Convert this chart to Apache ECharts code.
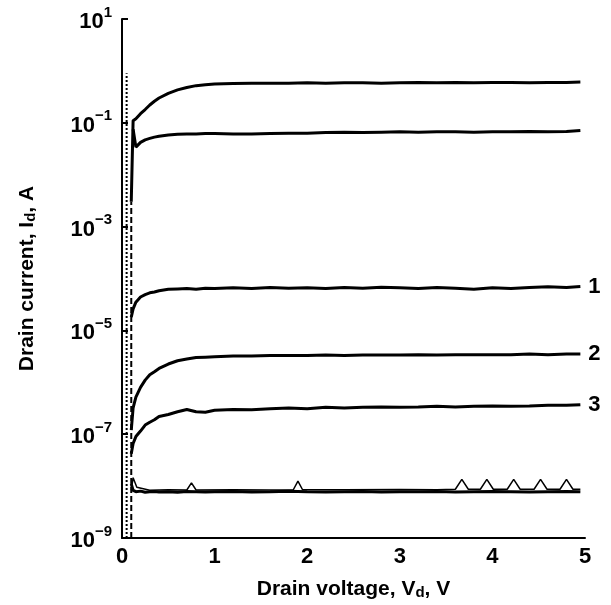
<!DOCTYPE html>
<html>
<head>
<meta charset="utf-8">
<script src="https://cdn.jsdelivr.net/npm/echarts/dist/echarts.min.js"></script>
<style>
  html, body { margin: 0; padding: 0; background: #fff; }
  #chart { width: 611px; height: 605px; }
</style>
</head>
<body>
<div id="chart"></div>
<script>
/* ── data ── */
const vd = [0.10, 0.12, 0.15, 0.2, 0.25, 0.3, 0.35, 0.4, 0.5, 0.6, 0.7, 0.8, 0.9, 1.0,
  1.2, 1.4, 1.6, 1.8, 2.0, 2.2, 2.4, 2.6, 2.8, 3.0, 3.2, 3.4, 3.6, 3.8, 4.0, 4.2, 4.4, 4.6, 4.8, 4.95];

const idTop = [0.003, 0.11, 0.12, 0.15, 0.18, 0.22, 0.26, 0.30, 0.37, 0.43, 0.48, 0.52, 0.54, 0.56,
  0.57, 0.58, 0.58, 0.58, 0.59, 0.58, 0.59, 0.59, 0.58, 0.59, 0.60, 0.59, 0.60, 0.59, 0.60, 0.60, 0.59, 0.60, 0.60, 0.61];
const idSecond = [null, 0.075, 0.034, 0.042, 0.047, 0.050, 0.053, 0.055, 0.058, 0.060, 0.061, 0.061, 0.062, 0.062,
  0.061, 0.061, 0.062, 0.063, 0.063, 0.065, 0.066, 0.065, 0.066, 0.067, 0.066, 0.067, 0.067, 0.066, 0.067, 0.067, 0.068, 0.067, 0.068, 0.071];
const id1 = [1.8e-5, 2.6e-5, 3.5e-5, 4.4e-5, 4.9e-5, 5.3e-5, 5.5e-5, 5.8e-5, 6.2e-5, 6.3e-5, 6.4e-5, 6.2e-5, 6.5e-5, 6.4e-5,
  6.6e-5, 6.4e-5, 6.7e-5, 6.5e-5, 6.6e-5, 6.4e-5, 6.7e-5, 6.5e-5, 6.8e-5, 6.6e-5, 6.4e-5, 6.7e-5, 6.5e-5, 6.2e-5, 6.6e-5, 6.4e-5, 6.7e-5, 6.9e-5, 6.7e-5, 7.0e-5];
const id2 = [1.2e-7, 3.2e-7, 5.2e-7, 8.0e-7, 1.1e-6, 1.4e-6, 1.6e-6, 1.85e-6, 2.25e-6, 2.6e-6, 2.8e-6, 3.0e-6, 3.05e-6, 3.1e-6,
  3.2e-6, 3.2e-6, 3.3e-6, 3.3e-6, 3.3e-6, 3.35e-6, 3.3e-6, 3.35e-6, 3.35e-6, 3.35e-6, 3.4e-6, 3.35e-6, 3.4e-6, 3.4e-6, 3.4e-6, 3.4e-6, 3.5e-6, 3.4e-6, 3.5e-6, 3.5e-6];
const id3 = [4.2e-8, 6.6e-8, 9.0e-8, 1.15e-7, 1.5e-7, 1.7e-7, 1.9e-7, 2.2e-7, 2.4e-7, 2.7e-7, 3.0e-7, 2.7e-7, 2.65e-7, 2.9e-7,
  3.0e-7, 2.95e-7, 3.1e-7, 3.2e-7, 3.1e-7, 3.3e-7, 3.2e-7, 3.3e-7, 3.35e-7, 3.3e-7, 3.35e-7, 3.45e-7, 3.35e-7, 3.45e-7, 3.5e-7, 3.45e-7, 3.5e-7, 3.6e-7, 3.6e-7, 3.7e-7];
const idFloor = [1.1e-8, 8.3e-9, 7.8e-9, 8.0e-9, 7.6e-9, 7.8e-9, 7.9e-9, 7.7e-9, 7.8e-9, 7.6e-9, 7.9e-9, 7.8e-9, 7.7e-9, 7.8e-9,
  7.9e-9, 7.7e-9, 7.8e-9, 8.0e-9, 7.8e-9, 7.7e-9, 7.8e-9, 7.9e-9, 7.7e-9, 7.8e-9, 7.8e-9, 7.9e-9, 7.7e-9, 7.8e-9, 7.9e-9, 7.8e-9, 7.7e-9, 7.8e-9, 7.9e-9, 7.8e-9];

// the noisy trace with little triangular bumps
const bumpVd = [0.10, 0.12, 0.16, 0.3, 0.5, 0.7, 0.75, 0.8, 1.2, 1.6, 1.85, 1.9, 1.95, 2.4, 3.0, 3.4, 3.6,
  3.67, 3.74, 3.87, 3.94, 4.01, 4.16, 4.23, 4.30, 4.45, 4.52, 4.59, 4.73, 4.80, 4.87, 4.95];
const idBump = [8.3e-9, 1.45e-8, 9.5e-9, 8.3e-9, 8.5e-9, 8.4e-9, 1.15e-8, 8.4e-9, 8.5e-9, 8.4e-9, 8.5e-9, 1.25e-8, 8.5e-9, 8.5e-9, 8.6e-9, 8.5e-9, 8.7e-9,
  1.35e-8, 8.7e-9, 8.7e-9, 1.35e-8, 8.7e-9, 8.7e-9, 1.35e-8, 8.7e-9, 8.7e-9, 1.35e-8, 8.7e-9, 8.7e-9, 1.35e-8, 8.7e-9, 8.7e-9];

// the initial sweeps hugging the y axis
const sweepDotted = [[0.05, 1e-9], [0.05, 0.9]];
const sweepDashed = [[0.10, 1e-9], [0.10, 3e-3]];

const yTicks = [1e-9, 1e-7, 1e-5, 1e-3, 1e-1, 10];

/* ── helpers ── */
const FONT = "'Liberation Sans', Arial, Helvetica, sans-serif";
const INK = "#000";
const pair = (xs, ys) => xs.map((x, i) => [x, ys[i]]).filter((p) => p[1] != null);
const sup = (v) => {
  const e = Math.round(Math.log10(v));
  const s = e < 0 ? "\u2212" + Math.abs(e) : String(e);
  return "{b|10}{s|" + s + "}";
};

const curve = (name, data, label) => ({
  name,
  type: "line",
  data,
  symbol: "none",
  lineStyle: { color: INK, width: 3 },
  endLabel: label
    ? { show: true, formatter: label, color: INK, fontSize: 22, fontWeight: "bold", fontFamily: FONT, distance: 8 }
    : { show: false },
  z: 3,
});

const chart = echarts.init(document.getElementById("chart"), null, { renderer: "canvas" });

chart.setOption({
  animation: false,
  backgroundColor: "#fff",
  grid: { left: 122, right: 26, top: 19, bottom: 61 },
  xAxis: {
    type: "value",
    min: 0,
    max: 5,
    interval: 1,
    name: "Drain voltage, V{sub|d}, V",
    nameLocation: "middle",
    nameGap: 40,
    nameTextStyle: {
      color: INK, fontSize: 21, fontWeight: "bold", fontFamily: FONT,
      rich: {
        sub: { fontSize: 15, fontWeight: "bold", fontFamily: FONT, color: INK, verticalAlign: "bottom", padding: [7, 0, 0, 0] },
      },
    },
    axisLine: { show: true, lineStyle: { color: INK, width: 2 } },
    axisTick: { show: false },
    axisLabel: { color: INK, fontSize: 22, fontWeight: "bold", fontFamily: FONT, margin: 8 },
    splitLine: { show: false },
  },
  yAxis: {
    type: "log",
    logBase: 10,
    min: 1e-9,
    max: 10,
    name: "Drain current, I{sub|d}, A",
    nameLocation: "middle",
    nameGap: 84,
    nameTextStyle: {
      color: INK, fontSize: 21, fontWeight: "bold", fontFamily: FONT,
      rich: {
        sub: { fontSize: 15, fontWeight: "bold", fontFamily: FONT, color: INK, verticalAlign: "bottom", padding: [7, 0, 0, 0] },
      },
    },
    axisLine: { show: true, lineStyle: { color: INK, width: 2 } },
    axisTick: { show: true, inside: true, length: 6, lineStyle: { color: INK, width: 2 }, customValues: yTicks },
    axisLabel: {
      customValues: yTicks,
      formatter: sup,
      margin: 10,
      rich: {
        b: { fontSize: 22, fontWeight: "bold", fontFamily: FONT, color: INK, padding: [6, 0, 0, 0] },
        s: { fontSize: 15, fontWeight: "bold", fontFamily: FONT, color: INK, verticalAlign: "top" },
      },
    },
    splitLine: { show: false },
  },
  series: [
    {
      name: "sweep-dotted",
      type: "line",
      data: sweepDotted,
      symbol: "none",
      lineStyle: { color: INK, width: 2, type: "dotted" },
      z: 2,
    },
    {
      name: "sweep-dashed",
      type: "line",
      data: sweepDashed,
      symbol: "none",
      lineStyle: { color: INK, width: 2, type: [6, 3] },
      z: 2,
    },
    curve("top", pair(vd, idTop)),
    curve("second", pair(vd, idSecond)),
    curve("1", pair(vd, id1), "1"),
    curve("2", pair(vd, id2), "2"),
    curve("3", pair(vd, id3), "3"),
    curve("floor", pair(vd, idFloor)),
    {
      name: "bump",
      type: "line",
      data: pair(bumpVd, idBump),
      symbol: "none",
      lineStyle: { color: INK, width: 1.5 },
      z: 3,
    },
  ],
});

window.addEventListener("resize", () => chart.resize());
</script>
</body>
</html>
